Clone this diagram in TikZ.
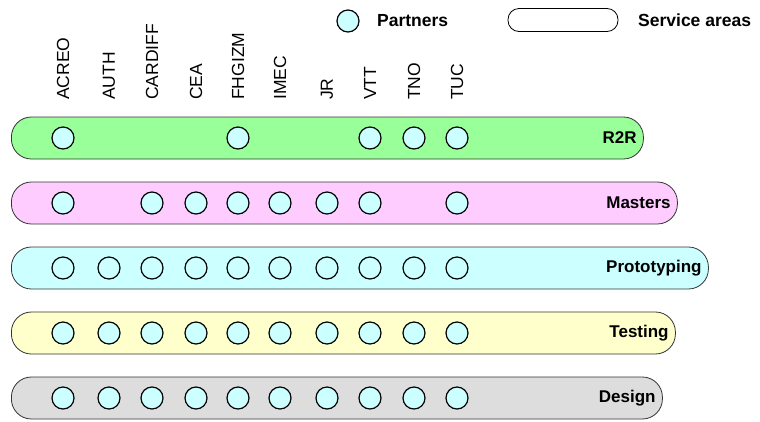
\documentclass[tikz,border=0pt]{standalone}
\usepackage{fontspec}
\setmainfont{Liberation Sans}
\usetikzlibrary{positioning}

\definecolor{partnercyan}{HTML}{CCFFFF}
\definecolor{rtworgreen}{HTML}{99FF99}
\definecolor{masterspink}{HTML}{FFCCFF}
\definecolor{prototypecyan}{HTML}{CCFFFF}
\definecolor{testingyellow}{HTML}{FFFFCC}
\definecolor{designgray}{HTML}{DDDDDD}

\tikzset{
  partner/.style={circle,draw=black,line width=1.2pt,fill=partnercyan,minimum size=22pt,inner sep=0pt},
  area/.style={rectangle,draw=black!80,line width=0.8pt,rounded corners=20pt,minimum height=42pt,inner sep=0pt,anchor=west},
  arealabel/.style={anchor=east,font=\fontsize{17}{20}\selectfont\bfseries,inner sep=0pt},
  orglabel/.style={rotate=90,anchor=west,font=\fontsize{17.5}{20}\selectfont,inner sep=0pt}
}

\begin{document}
\begin{tikzpicture}[x=1pt,y=-1pt]
  \useasboundingbox (0,0) rectangle (760,421);
  % legend
  \node[partner] (legpartner) at (348,21) {};
  \node[anchor=west,inner sep=0pt,font=\fontsize{17.5}{20}\selectfont\bfseries] (legpartnertxt) at (377,21) {Partners};
  \node[rectangle,draw=black,line width=0.8pt,rounded corners=11pt,minimum width=110pt,minimum height=23pt,inner sep=0pt] (legarea) at (563,20) {};
  \node[anchor=west,inner sep=0pt,font=\fontsize{17.5}{20}\selectfont\bfseries] (legareatxt) at (638,20) {Service areas};
  % partner names
  \foreach \org/\x in {ACREO/63,AUTH/109,CARDIFF/152,CEA/196,FHGIZM/238,IMEC/280,JR/327,VTT/370,TNO/414,TUC/457}
    \node[orglabel] (\org) at (\x,100) {\org};
  % service areas
  \node[area,fill=rtworgreen,minimum width=632pt] (r2r) at (11,138) {};
  \node[area,fill=masterspink,minimum width=666pt] (masters) at (11,203) {};
  \node[area,fill=prototypecyan,minimum width=697pt] (prototyping) at (11,268) {};
  \node[area,fill=testingyellow,minimum width=664pt] (testing) at (11,333) {};
  \node[area,fill=designgray,minimum width=651pt] (design) at (11,398) {};
  \node[arealabel,left=7pt of r2r.east] (r2rtxt) {R2R};
  \node[arealabel,left=7pt of masters.east] (masterstxt) {Masters};
  \node[arealabel,left=7pt of prototyping.east] (prototypingtxt) {Prototyping};
  \node[arealabel,left=7pt of testing.east] (testingtxt) {Testing};
  \node[arealabel,left=7pt of design.east] (designtxt) {Design};
  % partners in each area
  \foreach \x in {63,238,370,414,457}
    \node[partner] (r2r-\x) at (\x,138) {};
  \foreach \x in {63,152,196,238,280,327,370,457}
    \node[partner] (masters-\x) at (\x,203) {};
  \foreach \x in {63,109,152,196,238,280,327,370,414,457} {
    \node[partner] (prototyping-\x) at (\x,268) {};
    \node[partner] (testing-\x) at (\x,333) {};
    \node[partner] (design-\x) at (\x,398) {};
  }
\end{tikzpicture}
\end{document}
